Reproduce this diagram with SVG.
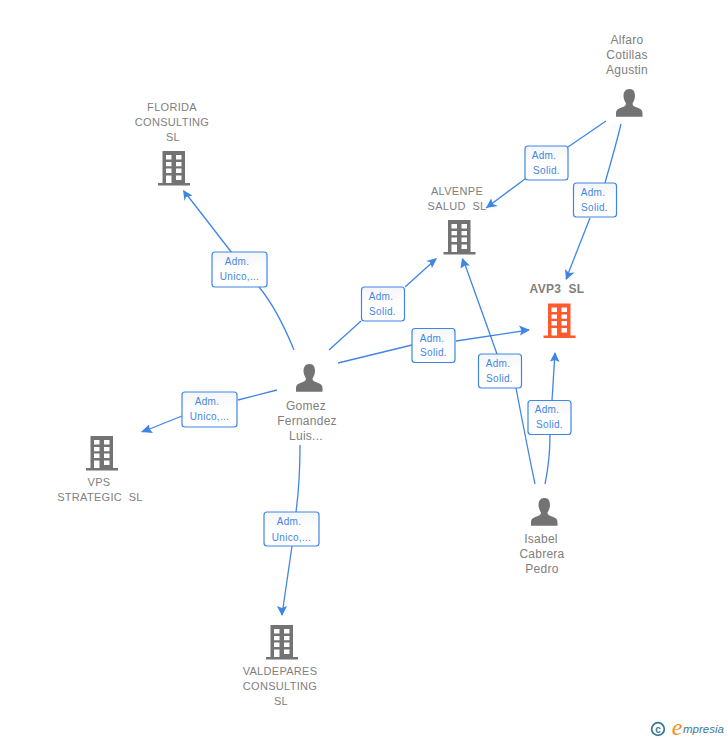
<svg xmlns="http://www.w3.org/2000/svg" width="728" height="740" viewBox="0 0 728 740">
<style>
.lbl{font-family:"Liberation Sans",Arial,sans-serif;font-size:11px;fill:#808080;text-anchor:middle;letter-spacing:.3px;white-space:pre}
.nm{font-size:12px;letter-spacing:.25px}
.main{font-weight:bold;font-size:12px}
.c{fill:none;stroke:#3f86e4;stroke-width:1.3}
.a{fill:#3f86e4;stroke:none}
.b{fill:url(#g);stroke:#3f86e4;stroke-width:1.2}
.t{font-family:"Liberation Sans",Arial,sans-serif;font-size:10px;fill:#3f86e4;text-anchor:middle;letter-spacing:.3px}
</style>
<defs>
<linearGradient id="g" x1="0" y1="0" x2="0" y2="1"><stop offset="0" stop-color="#f4f5f7"/><stop offset=".5" stop-color="#fff"/><stop offset="1" stop-color="#fff"/></linearGradient>
<symbol id="bld" width="32" height="35" viewBox="0 0 32 35" overflow="visible">
<path fill-rule="evenodd" d="M4.500 0H27V32H32V34.500H0V32H4.500ZM8 4V8.500H13.500V4ZM18 4V8.500H23.500V4ZM8 11V15.300H13.500V11ZM18 11V15.300H23.500V11ZM8 17.500V22H13.500V17.500ZM18 17.500V22H23.500V17.500ZM8 24.500V32H13.500V24.500ZM18 24.500V29H23.500V24.500Z"/>
</symbol>
<symbol id="per" width="28" height="28" viewBox="0 0 28 28" overflow="visible">
<path d="M14 0C9.500 0 8 3.500 8 7C8 10 9.500 13 10.500 14.500C10.500 17 9 17.500 6 18.500C2.500 19.800 .5 21 .5 24V27.800H27V24C27 21 25 19.800 21.500 18.500C18.500 17.500 17 17 17 14.500C18 13 19.500 10 19.500 7C19.500 3.500 18.500 0 14 0Z"/>
</symbol>
</defs>
<g id="connectors">
<path class="c" d="M294 350C285 328 274 305 259 287"/><path class="c" d="M232 253L184 191"/><path class="a" d="M183 190L192.500 195.500L186 197L184.500 201Z"/>
<path class="c" d="M329 350L361 321"/><path class="c" d="M405 287L436 259"/><path class="a" d="M437 258L432 268L430 262L426 261Z"/>
<path class="c" d="M338 363L412 345"/><path class="c" d="M456 341L529 330"/><path class="a" d="M530 330L520 335.500L521.500 330.500L519 325.500Z"/>
<path class="c" d="M277 390L238 400"/><path class="c" d="M182 416L142 432"/><path class="a" d="M141 432L149 424.500L149.500 429L153 433Z"/>
<path class="c" d="M300 445C300 470 299 490 296 512"/><path class="c" d="M292 546L282 615"/><path class="a" d="M282 616L277 606L282 608L287 606Z"/>
<path class="c" d="M606 121L568 147"/><path class="c" d="M525 179L486 208"/><path class="a" d="M486 208L491 198.500L493 204L498 206Z"/>
<path class="c" d="M621 124C616 145 610 165 605 183"/><path class="c" d="M590 218L566 279"/><path class="a" d="M566 280L565 269L569 273L574.500 272.500Z"/>
<path class="c" d="M535 484C530 460 524 430 516 388"/><path class="c" d="M497 354L463 259"/><path class="a" d="M462 258L470 265.500L465 265.500L460.500 268.500Z"/>
<path class="c" d="M545 484C549 465 550 450 550 435"/><path class="c" d="M552 400L555 353"/><path class="a" d="M555 352L559.500 362L555 360L550 361.500Z"/>
</g>
<g id="edge-labels">
<g><rect class="b" x="212" y="252" width="55" height="35" rx="3"/><text class="t" x="237" y="265">Adm.</text><text class="t" x="239.500" y="280">Unico,...</text></g>
<g><rect class="b" x="361.500" y="287" width="43" height="34" rx="3"/><text class="t" x="381" y="300">Adm.</text><text class="t" x="382.500" y="315">Solid.</text></g>
<g><rect class="b" x="412" y="328.500" width="43" height="34" rx="3"/><text class="t" x="432" y="342">Adm.</text><text class="t" x="433.500" y="356">Solid.</text></g>
<g><rect class="b" x="182" y="392" width="55" height="35" rx="3"/><text class="t" x="207" y="405">Adm.</text><text class="t" x="209.500" y="420">Unico,...</text></g>
<g><rect class="b" x="264" y="512" width="55" height="34" rx="3"/><text class="t" x="289" y="525">Adm.</text><text class="t" x="291.500" y="541">Unico,...</text></g>
<g><rect class="b" x="525" y="146" width="43" height="34" rx="3"/><text class="t" x="544" y="159">Adm.</text><text class="t" x="546.500" y="174">Solid.</text></g>
<g><rect class="b" x="573.500" y="183" width="43" height="34" rx="3"/><text class="t" x="593" y="196">Adm.</text><text class="t" x="594.500" y="211">Solid.</text></g>
<g><rect class="b" x="478.500" y="354" width="43" height="34" rx="3"/><text class="t" x="498" y="367">Adm.</text><text class="t" x="499.500" y="382">Solid.</text></g>
<g><rect class="b" x="528" y="400.500" width="43" height="34" rx="3"/><text class="t" x="547" y="413">Adm.</text><text class="t" x="549.500" y="428">Solid.</text></g>
</g>
<g id="node-florida"><use href="#bld" x="158" y="151" fill="#737373"/><text class="lbl" x="172" y="111">FLORIDA</text><text class="lbl" x="172" y="126">CONSULTING</text><text class="lbl" x="173" y="141">SL</text></g>
<g id="node-alvenpe"><use href="#bld" x="443.500" y="220" fill="#737373"/><text class="lbl" x="457" y="195">ALVENPE</text><text class="lbl" x="457" y="210">SALUD  SL</text></g>
<g id="node-avp3"><use href="#bld" x="543.500" y="303.500" fill="#ff5a2e"/><text class="lbl main" x="557" y="293">AVP3  SL</text></g>
<g id="node-vps"><use href="#bld" x="86" y="436" fill="#737373"/><text class="lbl" x="99" y="486">VPS</text><text class="lbl" x="100" y="501">STRATEGIC  SL</text></g>
<g id="node-valdepares"><use href="#bld" x="266" y="625" fill="#737373"/><text class="lbl" x="280" y="675">VALDEPARES</text><text class="lbl" x="280" y="690">CONSULTING</text><text class="lbl" x="281" y="705">SL</text></g>
<g id="node-gomez"><use href="#per" x="295.500" y="364" fill="#737373"/><text class="lbl nm" x="306" y="410">Gomez</text><text class="lbl nm" x="307" y="425">Fernandez</text><text class="lbl nm" x="306" y="440">Luis...</text></g>
<g id="node-alfaro"><use href="#per" x="615.500" y="89" fill="#737373"/><text class="lbl nm" x="627" y="44">Alfaro</text><text class="lbl nm" x="627" y="59">Cotillas</text><text class="lbl nm" x="627" y="74">Agustin</text></g>
<g id="node-isabel"><use href="#per" x="530.500" y="498" fill="#737373"/><text class="lbl nm" x="541" y="543">Isabel</text><text class="lbl nm" x="542" y="558">Cabrera</text><text class="lbl nm" x="542" y="573">Pedro</text></g>
<g id="logo"><circle cx="658" cy="729" r="6.300" fill="none" stroke="#3a7a93" stroke-width="1.800"/><text x="658" y="732.500" font-family="Liberation Sans,sans-serif" font-size="10" font-weight="bold" fill="#3a7a93" text-anchor="middle">c</text><text x="677" y="735" font-family="Liberation Serif,serif" font-style="italic" font-size="24" fill="#f28c1e" text-anchor="middle">e</text><text x="683" y="733" font-family="Liberation Sans,sans-serif" font-style="italic" font-size="11.500" fill="#3a7a93">mpresia</text></g>
</svg>
